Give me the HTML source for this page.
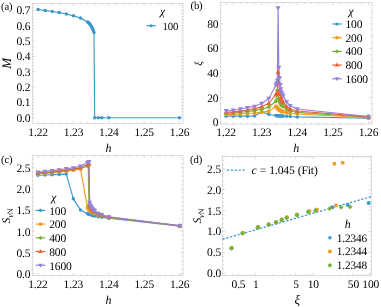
<!DOCTYPE html>
<html><head><meta charset="utf-8"><title>Figure</title>
<style>
html,body{margin:0;padding:0;background:#fff;}
body{width:381px;height:307px;overflow:hidden;}
svg{display:block;font-family:"Liberation Serif",serif;fill:#000;will-change:transform;text-rendering:geometricPrecision;}
text{letter-spacing:-0.15px;}
</style></head><body>
<svg width="381" height="307" viewBox="0 0 381 307">
<rect width="381" height="307" fill="#fff"/>
<rect x="32.4" y="3.45" width="150.6" height="119.85" fill="none" stroke="#bdbdbd" stroke-width="0.5"/>
<path d="M38.1 123.3v-2.6M38.1 3.45v2.6M73.47 123.3v-2.6M73.47 3.45v2.6M108.84 123.3v-2.6M108.84 3.45v2.6M144.21 123.3v-2.6M144.21 3.45v2.6M179.58 123.3v-2.6M179.58 3.45v2.6M45.17 123.3v-1.5M45.17 3.45v1.5M52.25 123.3v-1.5M52.25 3.45v1.5M59.32 123.3v-1.5M59.32 3.45v1.5M66.4 123.3v-1.5M66.4 3.45v1.5M80.54 123.3v-1.5M80.54 3.45v1.5M87.62 123.3v-1.5M87.62 3.45v1.5M94.69 123.3v-1.5M94.69 3.45v1.5M101.77 123.3v-1.5M101.77 3.45v1.5M115.91 123.3v-1.5M115.91 3.45v1.5M122.99 123.3v-1.5M122.99 3.45v1.5M130.06 123.3v-1.5M130.06 3.45v1.5M137.14 123.3v-1.5M137.14 3.45v1.5M151.28 123.3v-1.5M151.28 3.45v1.5M158.36 123.3v-1.5M158.36 3.45v1.5M165.43 123.3v-1.5M165.43 3.45v1.5M172.51 123.3v-1.5M172.51 3.45v1.5M32.4 117.7h2.6M183 117.7h-2.6M32.4 102.38h2.6M183 102.38h-2.6M32.4 87.06h2.6M183 87.06h-2.6M32.4 71.74h2.6M183 71.74h-2.6M32.4 56.42h2.6M183 56.42h-2.6M32.4 41.1h2.6M183 41.1h-2.6M32.4 25.78h2.6M183 25.78h-2.6M32.4 10.46h2.6M183 10.46h-2.6M32.4 114.64h1.5M183 114.64h-1.5M32.4 111.57h1.5M183 111.57h-1.5M32.4 108.51h1.5M183 108.51h-1.5M32.4 105.44h1.5M183 105.44h-1.5M32.4 99.32h1.5M183 99.32h-1.5M32.4 96.25h1.5M183 96.25h-1.5M32.4 93.19h1.5M183 93.19h-1.5M32.4 90.12h1.5M183 90.12h-1.5M32.4 84h1.5M183 84h-1.5M32.4 80.93h1.5M183 80.93h-1.5M32.4 77.87h1.5M183 77.87h-1.5M32.4 74.8h1.5M183 74.8h-1.5M32.4 68.68h1.5M183 68.68h-1.5M32.4 65.61h1.5M183 65.61h-1.5M32.4 62.55h1.5M183 62.55h-1.5M32.4 59.48h1.5M183 59.48h-1.5M32.4 53.36h1.5M183 53.36h-1.5M32.4 50.29h1.5M183 50.29h-1.5M32.4 47.23h1.5M183 47.23h-1.5M32.4 44.16h1.5M183 44.16h-1.5M32.4 38.04h1.5M183 38.04h-1.5M32.4 34.97h1.5M183 34.97h-1.5M32.4 31.91h1.5M183 31.91h-1.5M32.4 28.84h1.5M183 28.84h-1.5M32.4 22.72h1.5M183 22.72h-1.5M32.4 19.65h1.5M183 19.65h-1.5M32.4 16.59h1.5M183 16.59h-1.5M32.4 13.52h1.5M183 13.52h-1.5M32.4 7.4h1.5M183 7.4h-1.5M32.4 4.33h1.5M183 4.33h-1.5" stroke="#b4b4b4" stroke-width="0.5" fill="none"/>
<text x="38.1" y="135.7" font-size="11.5" text-anchor="middle">1.22</text>
<text x="73.47" y="135.7" font-size="11.5" text-anchor="middle">1.23</text>
<text x="108.84" y="135.7" font-size="11.5" text-anchor="middle">1.24</text>
<text x="144.21" y="135.7" font-size="11.5" text-anchor="middle">1.25</text>
<text x="179.58" y="135.7" font-size="11.5" text-anchor="middle">1.26</text>
<text x="30.4" y="121.7" font-size="11.5" text-anchor="end">0.0</text>
<text x="30.4" y="106.38" font-size="11.5" text-anchor="end">0.1</text>
<text x="30.4" y="91.06" font-size="11.5" text-anchor="end">0.2</text>
<text x="30.4" y="75.74" font-size="11.5" text-anchor="end">0.3</text>
<text x="30.4" y="60.42" font-size="11.5" text-anchor="end">0.4</text>
<text x="30.4" y="45.1" font-size="11.5" text-anchor="end">0.5</text>
<text x="30.4" y="29.78" font-size="11.5" text-anchor="end">0.6</text>
<text x="30.4" y="14.46" font-size="11.5" text-anchor="end">0.7</text>
<text x="1.1" y="9.8" font-size="10.7" text-anchor="start">(a)</text>
<text x="108.4" y="152" font-size="12" text-anchor="middle" font-style="italic">h</text>
<text transform="translate(10.9 63.4) rotate(-90)" font-size="13" text-anchor="middle"><tspan font-style="italic">M</tspan></text>
<path d="M38.1 9.54L45.17 10.61L52.25 11.53L59.32 12.6L66.4 13.98L73.47 15.82L80.54 18.12L87.62 21.95L88.33 22.56L89.03 23.33L89.74 24.09L90.45 25.01L91.16 26.09L91.86 27.31L92.57 28.69L93.28 30.38L93.98 32.52L94.69 117.7L98.23 117.7L101.77 117.7L108.84 117.7L179.58 117.7" fill="none" stroke="#3d99cc" stroke-width="1.15" stroke-linejoin="round"/>
<circle cx="38.1" cy="9.54" r="1.75" fill="#3d99cc"/>
<circle cx="45.17" cy="10.61" r="1.75" fill="#3d99cc"/>
<circle cx="52.25" cy="11.53" r="1.75" fill="#3d99cc"/>
<circle cx="59.32" cy="12.6" r="1.75" fill="#3d99cc"/>
<circle cx="66.4" cy="13.98" r="1.75" fill="#3d99cc"/>
<circle cx="73.47" cy="15.82" r="1.75" fill="#3d99cc"/>
<circle cx="80.54" cy="18.12" r="1.75" fill="#3d99cc"/>
<circle cx="87.62" cy="21.95" r="1.75" fill="#3d99cc"/>
<circle cx="88.33" cy="22.56" r="1.75" fill="#3d99cc"/>
<circle cx="89.03" cy="23.33" r="1.75" fill="#3d99cc"/>
<circle cx="89.74" cy="24.09" r="1.75" fill="#3d99cc"/>
<circle cx="90.45" cy="25.01" r="1.75" fill="#3d99cc"/>
<circle cx="91.16" cy="26.09" r="1.75" fill="#3d99cc"/>
<circle cx="91.86" cy="27.31" r="1.75" fill="#3d99cc"/>
<circle cx="92.57" cy="28.69" r="1.75" fill="#3d99cc"/>
<circle cx="93.28" cy="30.38" r="1.75" fill="#3d99cc"/>
<circle cx="93.98" cy="32.52" r="1.75" fill="#3d99cc"/>
<circle cx="94.69" cy="117.7" r="1.75" fill="#3d99cc"/>
<circle cx="98.23" cy="117.7" r="1.75" fill="#3d99cc"/>
<circle cx="101.77" cy="117.7" r="1.75" fill="#3d99cc"/>
<circle cx="108.84" cy="117.7" r="1.75" fill="#3d99cc"/>
<circle cx="179.58" cy="117.7" r="1.75" fill="#3d99cc"/>
<text x="162.5" y="15.2" font-size="11.5" text-anchor="middle" font-style="italic">&#967;</text>
<path d="M146.3 25.7h9.6" stroke="#3d99cc" stroke-width="1.2"/>
<circle cx="151.1" cy="25.7" r="1.57" fill="#3d99cc"/>
<text x="162.6" y="29.6" font-size="10.8" text-anchor="start">100</text>
<rect x="220.2" y="2.5" width="151.8" height="121.6" fill="none" stroke="#bdbdbd" stroke-width="0.5"/>
<path d="M226.1 124.1v-2.6M226.1 2.5v2.6M261.7 124.1v-2.6M261.7 2.5v2.6M297.3 124.1v-2.6M297.3 2.5v2.6M332.9 124.1v-2.6M332.9 2.5v2.6M368.5 124.1v-2.6M368.5 2.5v2.6M233.22 124.1v-1.5M233.22 2.5v1.5M240.34 124.1v-1.5M240.34 2.5v1.5M247.46 124.1v-1.5M247.46 2.5v1.5M254.58 124.1v-1.5M254.58 2.5v1.5M268.82 124.1v-1.5M268.82 2.5v1.5M275.94 124.1v-1.5M275.94 2.5v1.5M283.06 124.1v-1.5M283.06 2.5v1.5M290.18 124.1v-1.5M290.18 2.5v1.5M304.42 124.1v-1.5M304.42 2.5v1.5M311.54 124.1v-1.5M311.54 2.5v1.5M318.66 124.1v-1.5M318.66 2.5v1.5M325.78 124.1v-1.5M325.78 2.5v1.5M340.02 124.1v-1.5M340.02 2.5v1.5M347.14 124.1v-1.5M347.14 2.5v1.5M354.26 124.1v-1.5M354.26 2.5v1.5M361.38 124.1v-1.5M361.38 2.5v1.5M220.2 122.2h2.6M372 122.2h-2.6M220.2 97.6h2.6M372 97.6h-2.6M220.2 73h2.6M372 73h-2.6M220.2 48.4h2.6M372 48.4h-2.6M220.2 23.8h2.6M372 23.8h-2.6M220.2 116.05h1.5M372 116.05h-1.5M220.2 109.9h1.5M372 109.9h-1.5M220.2 103.75h1.5M372 103.75h-1.5M220.2 91.45h1.5M372 91.45h-1.5M220.2 85.3h1.5M372 85.3h-1.5M220.2 79.15h1.5M372 79.15h-1.5M220.2 66.85h1.5M372 66.85h-1.5M220.2 60.7h1.5M372 60.7h-1.5M220.2 54.55h1.5M372 54.55h-1.5M220.2 42.25h1.5M372 42.25h-1.5M220.2 36.1h1.5M372 36.1h-1.5M220.2 29.95h1.5M372 29.95h-1.5M220.2 17.65h1.5M372 17.65h-1.5M220.2 11.5h1.5M372 11.5h-1.5M220.2 5.35h1.5M372 5.35h-1.5" stroke="#b4b4b4" stroke-width="0.5" fill="none"/>
<text x="226.1" y="135.7" font-size="11.5" text-anchor="middle">1.22</text>
<text x="261.7" y="135.7" font-size="11.5" text-anchor="middle">1.23</text>
<text x="297.3" y="135.7" font-size="11.5" text-anchor="middle">1.24</text>
<text x="332.9" y="135.7" font-size="11.5" text-anchor="middle">1.25</text>
<text x="368.5" y="135.7" font-size="11.5" text-anchor="middle">1.26</text>
<text x="218.4" y="126.1" font-size="11.5" text-anchor="end">0</text>
<text x="218.4" y="101.5" font-size="11.5" text-anchor="end">20</text>
<text x="218.4" y="76.9" font-size="11.5" text-anchor="end">40</text>
<text x="218.4" y="52.3" font-size="11.5" text-anchor="end">60</text>
<text x="218.4" y="27.7" font-size="11.5" text-anchor="end">80</text>
<text x="190.5" y="9.3" font-size="10.7" text-anchor="start">(b)</text>
<text x="296.3" y="152" font-size="12" text-anchor="middle" font-style="italic">h</text>
<text transform="translate(202.4 63.5) rotate(-90)" font-size="10.5" text-anchor="middle"><tspan font-style="italic">&#958;</tspan></text>
<path d="M226.1 116.17L233.22 116.17L240.34 116.17L247.46 116.17L254.58 116.05L261.7 111.87L268.82 114.45L275.94 115.56L276.65 115.68L277.36 115.68L278.08 115.8L278.79 115.8L279.5 115.8L280.21 115.93L280.92 115.93L281.64 115.93L282.35 116.05L283.06 116.05L286.62 116.3L290.18 116.54L297.3 116.91L368.5 118.26" fill="none" stroke="#3d99cc" stroke-width="1.15" stroke-linejoin="round"/>
<path d="M226.1 114.57L233.22 114.33L240.34 113.96L247.46 113.47L254.58 112.98L261.7 112.11L268.82 111.38L275.94 106.33L276.65 107.07L277.36 107.93L278.08 108.67L278.79 109.41L279.5 110.02L280.21 110.52L280.92 110.88L281.64 111.25L282.35 111.5L283.06 111.75L286.62 112.61L290.18 113.22L297.3 113.96L368.5 117.77" fill="none" stroke="#f19b1e" stroke-width="1.15" stroke-linejoin="round"/>
<path d="M226.1 113.47L233.22 112.98L240.34 112.36L247.46 111.5L254.58 110.64L261.7 109.16L268.82 107.07L275.94 101.29L276.65 95.14L277.36 90.22L278.08 93.91L278.79 98.83L279.5 101.29L280.21 103.01L280.92 104.24L281.64 105.23L282.35 105.84L283.06 106.33L286.62 109.16L290.18 111.01L297.3 112.36L368.5 117.28" fill="none" stroke="#74b336" stroke-width="1.15" stroke-linejoin="round"/>
<path d="M226.1 112.36L233.22 111.87L240.34 111.13L247.46 110.02L254.58 108.67L261.7 106.83L268.82 103.26L275.94 94.53L276.65 93.3L277.36 92.68L278.08 72.39L278.79 82.84L279.5 90.22L280.21 94.53L280.92 97.6L281.64 99.69L282.35 101.29L283.06 102.52L286.62 106.46L290.18 109.04L297.3 111.01L368.5 116.91" fill="none" stroke="#eb6235" stroke-width="1.15" stroke-linejoin="round"/>
<path d="M226.1 110.76L233.22 110.27L240.34 109.04L247.46 107.56L254.58 106.33L261.7 103.5L268.82 98.46L275.94 85.05L276.65 82.84L277.36 80.38L278.08 7.81L278.79 67.47L279.5 77.92L280.21 84.69L280.92 88.99L281.64 92.06L282.35 94.16L283.06 95.88L286.62 101.91L290.18 105.72L297.3 109.04L368.5 116.54" fill="none" stroke="#9382d9" stroke-width="1.15" stroke-linejoin="round"/>
<circle cx="226.1" cy="116.17" r="1.75" fill="#3d99cc"/>
<circle cx="233.22" cy="116.17" r="1.75" fill="#3d99cc"/>
<circle cx="240.34" cy="116.17" r="1.75" fill="#3d99cc"/>
<circle cx="247.46" cy="116.17" r="1.75" fill="#3d99cc"/>
<circle cx="254.58" cy="116.05" r="1.75" fill="#3d99cc"/>
<circle cx="261.7" cy="111.87" r="1.75" fill="#3d99cc"/>
<circle cx="268.82" cy="114.45" r="1.75" fill="#3d99cc"/>
<circle cx="275.94" cy="115.56" r="1.75" fill="#3d99cc"/>
<circle cx="276.65" cy="115.68" r="1.75" fill="#3d99cc"/>
<circle cx="277.36" cy="115.68" r="1.75" fill="#3d99cc"/>
<circle cx="278.08" cy="115.8" r="1.75" fill="#3d99cc"/>
<circle cx="278.79" cy="115.8" r="1.75" fill="#3d99cc"/>
<circle cx="279.5" cy="115.8" r="1.75" fill="#3d99cc"/>
<circle cx="280.21" cy="115.93" r="1.75" fill="#3d99cc"/>
<circle cx="280.92" cy="115.93" r="1.75" fill="#3d99cc"/>
<circle cx="281.64" cy="115.93" r="1.75" fill="#3d99cc"/>
<circle cx="282.35" cy="116.05" r="1.75" fill="#3d99cc"/>
<circle cx="283.06" cy="116.05" r="1.75" fill="#3d99cc"/>
<circle cx="286.62" cy="116.3" r="1.75" fill="#3d99cc"/>
<circle cx="290.18" cy="116.54" r="1.75" fill="#3d99cc"/>
<circle cx="297.3" cy="116.91" r="1.75" fill="#3d99cc"/>
<circle cx="368.5" cy="118.26" r="1.75" fill="#3d99cc"/>
<rect x="224.4" y="112.87" width="3.4" height="3.4" fill="#f19b1e"/>
<rect x="231.52" y="112.63" width="3.4" height="3.4" fill="#f19b1e"/>
<rect x="238.64" y="112.26" width="3.4" height="3.4" fill="#f19b1e"/>
<rect x="245.76" y="111.77" width="3.4" height="3.4" fill="#f19b1e"/>
<rect x="252.88" y="111.28" width="3.4" height="3.4" fill="#f19b1e"/>
<rect x="260" y="110.41" width="3.4" height="3.4" fill="#f19b1e"/>
<rect x="267.12" y="109.68" width="3.4" height="3.4" fill="#f19b1e"/>
<rect x="274.24" y="104.63" width="3.4" height="3.4" fill="#f19b1e"/>
<rect x="274.95" y="105.37" width="3.4" height="3.4" fill="#f19b1e"/>
<rect x="275.66" y="106.23" width="3.4" height="3.4" fill="#f19b1e"/>
<rect x="276.38" y="106.97" width="3.4" height="3.4" fill="#f19b1e"/>
<rect x="277.09" y="107.71" width="3.4" height="3.4" fill="#f19b1e"/>
<rect x="277.8" y="108.32" width="3.4" height="3.4" fill="#f19b1e"/>
<rect x="278.51" y="108.81" width="3.4" height="3.4" fill="#f19b1e"/>
<rect x="279.22" y="109.18" width="3.4" height="3.4" fill="#f19b1e"/>
<rect x="279.94" y="109.55" width="3.4" height="3.4" fill="#f19b1e"/>
<rect x="280.65" y="109.8" width="3.4" height="3.4" fill="#f19b1e"/>
<rect x="281.36" y="110.05" width="3.4" height="3.4" fill="#f19b1e"/>
<rect x="284.92" y="110.91" width="3.4" height="3.4" fill="#f19b1e"/>
<rect x="288.48" y="111.52" width="3.4" height="3.4" fill="#f19b1e"/>
<rect x="295.6" y="112.26" width="3.4" height="3.4" fill="#f19b1e"/>
<rect x="366.8" y="116.07" width="3.4" height="3.4" fill="#f19b1e"/>
<path d="M226.1 111.07L228.5 113.47L226.1 115.87L223.7 113.47Z" fill="#74b336"/>
<path d="M233.22 110.58L235.62 112.98L233.22 115.38L230.82 112.98Z" fill="#74b336"/>
<path d="M240.34 109.96L242.74 112.36L240.34 114.76L237.94 112.36Z" fill="#74b336"/>
<path d="M247.46 109.1L249.86 111.5L247.46 113.9L245.06 111.5Z" fill="#74b336"/>
<path d="M254.58 108.24L256.98 110.64L254.58 113.04L252.18 110.64Z" fill="#74b336"/>
<path d="M261.7 106.76L264.1 109.16L261.7 111.56L259.3 109.16Z" fill="#74b336"/>
<path d="M268.82 104.67L271.22 107.07L268.82 109.47L266.42 107.07Z" fill="#74b336"/>
<path d="M275.94 98.89L278.34 101.29L275.94 103.69L273.54 101.29Z" fill="#74b336"/>
<path d="M276.65 92.74L279.05 95.14L276.65 97.54L274.25 95.14Z" fill="#74b336"/>
<path d="M277.36 87.82L279.76 90.22L277.36 92.62L274.96 90.22Z" fill="#74b336"/>
<path d="M278.08 91.51L280.48 93.91L278.08 96.31L275.68 93.91Z" fill="#74b336"/>
<path d="M278.79 96.43L281.19 98.83L278.79 101.23L276.39 98.83Z" fill="#74b336"/>
<path d="M279.5 98.89L281.9 101.29L279.5 103.69L277.1 101.29Z" fill="#74b336"/>
<path d="M280.21 100.61L282.61 103.01L280.21 105.41L277.81 103.01Z" fill="#74b336"/>
<path d="M280.92 101.84L283.32 104.24L280.92 106.64L278.52 104.24Z" fill="#74b336"/>
<path d="M281.64 102.83L284.04 105.23L281.64 107.63L279.24 105.23Z" fill="#74b336"/>
<path d="M282.35 103.44L284.75 105.84L282.35 108.24L279.95 105.84Z" fill="#74b336"/>
<path d="M283.06 103.93L285.46 106.33L283.06 108.73L280.66 106.33Z" fill="#74b336"/>
<path d="M286.62 106.76L289.02 109.16L286.62 111.56L284.22 109.16Z" fill="#74b336"/>
<path d="M290.18 108.61L292.58 111.01L290.18 113.41L287.78 111.01Z" fill="#74b336"/>
<path d="M297.3 109.96L299.7 112.36L297.3 114.76L294.9 112.36Z" fill="#74b336"/>
<path d="M368.5 114.88L370.9 117.28L368.5 119.68L366.1 117.28Z" fill="#74b336"/>
<path d="M226.1 109.56L228.62 114.04L223.58 114.04Z" fill="#eb6235"/>
<path d="M233.22 109.07L235.74 113.55L230.7 113.55Z" fill="#eb6235"/>
<path d="M240.34 108.33L242.86 112.81L237.82 112.81Z" fill="#eb6235"/>
<path d="M247.46 107.22L249.98 111.7L244.94 111.7Z" fill="#eb6235"/>
<path d="M254.58 105.87L257.1 110.35L252.06 110.35Z" fill="#eb6235"/>
<path d="M261.7 104.03L264.22 108.51L259.18 108.51Z" fill="#eb6235"/>
<path d="M268.82 100.46L271.34 104.94L266.3 104.94Z" fill="#eb6235"/>
<path d="M275.94 91.73L278.46 96.21L273.42 96.21Z" fill="#eb6235"/>
<path d="M276.65 90.5L279.17 94.98L274.13 94.98Z" fill="#eb6235"/>
<path d="M277.36 89.88L279.88 94.36L274.84 94.36Z" fill="#eb6235"/>
<path d="M278.08 69.59L280.6 74.07L275.56 74.07Z" fill="#eb6235"/>
<path d="M278.79 80.04L281.31 84.52L276.27 84.52Z" fill="#eb6235"/>
<path d="M279.5 87.42L282.02 91.9L276.98 91.9Z" fill="#eb6235"/>
<path d="M280.21 91.73L282.73 96.21L277.69 96.21Z" fill="#eb6235"/>
<path d="M280.92 94.8L283.44 99.28L278.4 99.28Z" fill="#eb6235"/>
<path d="M281.64 96.89L284.16 101.37L279.12 101.37Z" fill="#eb6235"/>
<path d="M282.35 98.49L284.87 102.97L279.83 102.97Z" fill="#eb6235"/>
<path d="M283.06 99.72L285.58 104.2L280.54 104.2Z" fill="#eb6235"/>
<path d="M286.62 103.66L289.14 108.14L284.1 108.14Z" fill="#eb6235"/>
<path d="M290.18 106.24L292.7 110.72L287.66 110.72Z" fill="#eb6235"/>
<path d="M297.3 108.21L299.82 112.69L294.78 112.69Z" fill="#eb6235"/>
<path d="M368.5 114.11L371.02 118.59L365.98 118.59Z" fill="#eb6235"/>
<path d="M226.1 113.56L228.62 109.08L223.58 109.08Z" fill="#9382d9"/>
<path d="M233.22 113.07L235.74 108.59L230.7 108.59Z" fill="#9382d9"/>
<path d="M240.34 111.84L242.86 107.36L237.82 107.36Z" fill="#9382d9"/>
<path d="M247.46 110.36L249.98 105.88L244.94 105.88Z" fill="#9382d9"/>
<path d="M254.58 109.13L257.1 104.65L252.06 104.65Z" fill="#9382d9"/>
<path d="M261.7 106.3L264.22 101.82L259.18 101.82Z" fill="#9382d9"/>
<path d="M268.82 101.26L271.34 96.78L266.3 96.78Z" fill="#9382d9"/>
<path d="M275.94 87.85L278.46 83.37L273.42 83.37Z" fill="#9382d9"/>
<path d="M276.65 85.64L279.17 81.16L274.13 81.16Z" fill="#9382d9"/>
<path d="M277.36 83.18L279.88 78.7L274.84 78.7Z" fill="#9382d9"/>
<path d="M278.08 10.61L280.6 6.13L275.56 6.13Z" fill="#9382d9"/>
<path d="M278.79 70.27L281.31 65.78L276.27 65.78Z" fill="#9382d9"/>
<path d="M279.5 80.72L282.02 76.24L276.98 76.24Z" fill="#9382d9"/>
<path d="M280.21 87.48L282.73 83L277.69 83Z" fill="#9382d9"/>
<path d="M280.92 91.79L283.44 87.31L278.4 87.31Z" fill="#9382d9"/>
<path d="M281.64 94.86L284.16 90.38L279.12 90.38Z" fill="#9382d9"/>
<path d="M282.35 96.96L284.87 92.48L279.83 92.48Z" fill="#9382d9"/>
<path d="M283.06 98.68L285.58 94.2L280.54 94.2Z" fill="#9382d9"/>
<path d="M286.62 104.7L289.14 100.22L284.1 100.22Z" fill="#9382d9"/>
<path d="M290.18 108.52L292.7 104.04L287.66 104.04Z" fill="#9382d9"/>
<path d="M297.3 111.84L299.82 107.36L294.78 107.36Z" fill="#9382d9"/>
<path d="M368.5 119.34L371.02 114.86L365.98 114.86Z" fill="#9382d9"/>
<text x="350.9" y="15" font-size="11.5" text-anchor="middle" font-style="italic">&#967;</text>
<path d="M332.2 24h9.6" stroke="#3d99cc" stroke-width="1.2"/>
<circle cx="337" cy="24" r="1.57" fill="#3d99cc"/>
<text x="345.5" y="27.9" font-size="11.5" text-anchor="start">100</text>
<path d="M332.2 37.7h9.6" stroke="#f19b1e" stroke-width="1.2"/>
<rect x="335.47" y="36.17" width="3.06" height="3.06" fill="#f19b1e"/>
<text x="345.5" y="41.6" font-size="11.5" text-anchor="start">200</text>
<path d="M332.2 51.4h9.6" stroke="#74b336" stroke-width="1.2"/>
<path d="M337 49.24L339.16 51.4L337 53.56L334.84 51.4Z" fill="#74b336"/>
<text x="345.5" y="55.3" font-size="11.5" text-anchor="start">400</text>
<path d="M332.2 65.1h9.6" stroke="#eb6235" stroke-width="1.2"/>
<path d="M337 62.58L339.27 66.61L334.73 66.61Z" fill="#eb6235"/>
<text x="345.5" y="69" font-size="11.5" text-anchor="start">800</text>
<path d="M332.2 78.8h9.6" stroke="#9382d9" stroke-width="1.2"/>
<path d="M337 81.32L339.27 77.29L334.73 77.29Z" fill="#9382d9"/>
<text x="345.5" y="82.7" font-size="11.5" text-anchor="start">1600</text>
<rect x="32.2" y="155.5" width="150.8" height="120.1" fill="none" stroke="#bdbdbd" stroke-width="0.5"/>
<path d="M37.9 275.6v-2.6M37.9 155.5v2.6M73.35 275.6v-2.6M73.35 155.5v2.6M108.8 275.6v-2.6M108.8 155.5v2.6M144.25 275.6v-2.6M144.25 155.5v2.6M179.7 275.6v-2.6M179.7 155.5v2.6M44.99 275.6v-1.5M44.99 155.5v1.5M52.08 275.6v-1.5M52.08 155.5v1.5M59.17 275.6v-1.5M59.17 155.5v1.5M66.26 275.6v-1.5M66.26 155.5v1.5M80.44 275.6v-1.5M80.44 155.5v1.5M87.53 275.6v-1.5M87.53 155.5v1.5M94.62 275.6v-1.5M94.62 155.5v1.5M101.71 275.6v-1.5M101.71 155.5v1.5M115.89 275.6v-1.5M115.89 155.5v1.5M122.98 275.6v-1.5M122.98 155.5v1.5M130.07 275.6v-1.5M130.07 155.5v1.5M137.16 275.6v-1.5M137.16 155.5v1.5M151.34 275.6v-1.5M151.34 155.5v1.5M158.43 275.6v-1.5M158.43 155.5v1.5M165.52 275.6v-1.5M165.52 155.5v1.5M172.61 275.6v-1.5M172.61 155.5v1.5M32.2 273.7h2.6M183 273.7h-2.6M32.2 252.5h2.6M183 252.5h-2.6M32.2 231.3h2.6M183 231.3h-2.6M32.2 210.1h2.6M183 210.1h-2.6M32.2 188.9h2.6M183 188.9h-2.6M32.2 167.7h2.6M183 167.7h-2.6M32.2 269.46h1.5M183 269.46h-1.5M32.2 265.22h1.5M183 265.22h-1.5M32.2 260.98h1.5M183 260.98h-1.5M32.2 256.74h1.5M183 256.74h-1.5M32.2 248.26h1.5M183 248.26h-1.5M32.2 244.02h1.5M183 244.02h-1.5M32.2 239.78h1.5M183 239.78h-1.5M32.2 235.54h1.5M183 235.54h-1.5M32.2 227.06h1.5M183 227.06h-1.5M32.2 222.82h1.5M183 222.82h-1.5M32.2 218.58h1.5M183 218.58h-1.5M32.2 214.34h1.5M183 214.34h-1.5M32.2 205.86h1.5M183 205.86h-1.5M32.2 201.62h1.5M183 201.62h-1.5M32.2 197.38h1.5M183 197.38h-1.5M32.2 193.14h1.5M183 193.14h-1.5M32.2 184.66h1.5M183 184.66h-1.5M32.2 180.42h1.5M183 180.42h-1.5M32.2 176.18h1.5M183 176.18h-1.5M32.2 171.94h1.5M183 171.94h-1.5M32.2 163.46h1.5M183 163.46h-1.5M32.2 159.22h1.5M183 159.22h-1.5" stroke="#b4b4b4" stroke-width="0.5" fill="none"/>
<text x="37.9" y="288" font-size="11.5" text-anchor="middle">1.22</text>
<text x="73.35" y="288" font-size="11.5" text-anchor="middle">1.23</text>
<text x="108.8" y="288" font-size="11.5" text-anchor="middle">1.24</text>
<text x="144.25" y="288" font-size="11.5" text-anchor="middle">1.25</text>
<text x="179.7" y="288" font-size="11.5" text-anchor="middle">1.26</text>
<text x="30.4" y="278" font-size="11.5" text-anchor="end">0.0</text>
<text x="30.4" y="256.8" font-size="11.5" text-anchor="end">0.5</text>
<text x="30.4" y="235.6" font-size="11.5" text-anchor="end">1.0</text>
<text x="30.4" y="214.4" font-size="11.5" text-anchor="end">1.5</text>
<text x="30.4" y="193.2" font-size="11.5" text-anchor="end">2.0</text>
<text x="30.4" y="172" font-size="11.5" text-anchor="end">2.5</text>
<text x="1.1" y="162.6" font-size="10.7" text-anchor="start">(c)</text>
<text x="108.4" y="304" font-size="12" text-anchor="middle" font-style="italic">h</text>
<text transform="translate(10.2 216) rotate(-90)" font-size="11.5" text-anchor="middle"><tspan font-style="italic">S</tspan><tspan font-size="8.2" dy="3" font-style="italic">v</tspan><tspan font-size="8.2">N</tspan></text>
<path d="M37.9 175.25L44.99 174.99L52.08 174.7L59.17 174.4L66.26 174.06L73.35 198.86L80.44 209.89L87.53 213.62L88.24 213.92L88.95 214.13L89.66 214.34L90.37 214.55L91.08 214.76L91.78 214.98L92.49 215.19L93.2 215.61L93.91 215.82L94.62 216.04L98.17 216.67L101.71 217.31L108.8 218.16L179.7 226.21" fill="none" stroke="#3d99cc" stroke-width="1.15" stroke-linejoin="round"/>
<path d="M37.9 173.85L44.99 173.21L52.08 172.58L59.17 171.94L66.26 171.09L73.35 170.03L80.44 168.97L87.53 207.73L88.24 208.62L88.95 209.46L89.66 210.1L90.37 210.74L91.08 211.37L91.78 211.8L92.49 212.22L93.2 212.64L93.91 213.07L94.62 213.49L98.17 214.98L101.71 216.04L108.8 217.52L179.7 226" fill="none" stroke="#f19b1e" stroke-width="1.15" stroke-linejoin="round"/>
<path d="M37.9 173.42L44.99 172.79L52.08 172.15L59.17 171.3L66.26 170.46L73.35 169.4L80.44 168.12L87.53 166.22L88.24 165.79L88.95 205.01L89.66 206.71L90.37 207.98L91.08 209.04L91.78 209.89L92.49 210.52L93.2 211.16L93.91 211.8L94.62 212.22L98.17 214.34L101.71 215.61L108.8 217.31L179.7 225.79" fill="none" stroke="#74b336" stroke-width="1.15" stroke-linejoin="round"/>
<path d="M37.9 173L44.99 172.36L52.08 171.73L59.17 170.88L66.26 170.03L73.35 168.97L80.44 167.7L87.53 164.52L88.24 163.88L88.95 163.46L89.66 205.01L90.37 206.5L91.08 207.77L91.78 208.83L92.49 209.68L93.2 210.31L93.91 210.95L94.62 211.58L98.17 213.92L101.71 215.19L108.8 217.1L179.7 225.79" fill="none" stroke="#eb6235" stroke-width="1.15" stroke-linejoin="round"/>
<path d="M37.9 172.15L44.99 171.52L52.08 170.67L59.17 169.82L66.26 168.76L73.35 167.91L80.44 166.22L87.53 162.61L88.24 162.19L88.95 161.76L89.66 202.47L90.37 205.01L91.08 206.71L91.78 207.98L92.49 209.04L93.2 209.68L93.91 210.31L94.62 210.95L98.17 213.49L101.71 214.76L108.8 216.88L179.7 225.58" fill="none" stroke="#9382d9" stroke-width="1.15" stroke-linejoin="round"/>
<circle cx="37.9" cy="175.25" r="1.75" fill="#3d99cc"/>
<circle cx="44.99" cy="174.99" r="1.75" fill="#3d99cc"/>
<circle cx="52.08" cy="174.7" r="1.75" fill="#3d99cc"/>
<circle cx="59.17" cy="174.4" r="1.75" fill="#3d99cc"/>
<circle cx="66.26" cy="174.06" r="1.75" fill="#3d99cc"/>
<circle cx="73.35" cy="198.86" r="1.75" fill="#3d99cc"/>
<circle cx="80.44" cy="209.89" r="1.75" fill="#3d99cc"/>
<circle cx="87.53" cy="213.62" r="1.75" fill="#3d99cc"/>
<circle cx="88.24" cy="213.92" r="1.75" fill="#3d99cc"/>
<circle cx="88.95" cy="214.13" r="1.75" fill="#3d99cc"/>
<circle cx="89.66" cy="214.34" r="1.75" fill="#3d99cc"/>
<circle cx="90.37" cy="214.55" r="1.75" fill="#3d99cc"/>
<circle cx="91.08" cy="214.76" r="1.75" fill="#3d99cc"/>
<circle cx="91.78" cy="214.98" r="1.75" fill="#3d99cc"/>
<circle cx="92.49" cy="215.19" r="1.75" fill="#3d99cc"/>
<circle cx="93.2" cy="215.61" r="1.75" fill="#3d99cc"/>
<circle cx="93.91" cy="215.82" r="1.75" fill="#3d99cc"/>
<circle cx="94.62" cy="216.04" r="1.75" fill="#3d99cc"/>
<circle cx="98.17" cy="216.67" r="1.75" fill="#3d99cc"/>
<circle cx="101.71" cy="217.31" r="1.75" fill="#3d99cc"/>
<circle cx="108.8" cy="218.16" r="1.75" fill="#3d99cc"/>
<circle cx="179.7" cy="226.21" r="1.75" fill="#3d99cc"/>
<rect x="36.2" y="172.15" width="3.4" height="3.4" fill="#f19b1e"/>
<rect x="43.29" y="171.51" width="3.4" height="3.4" fill="#f19b1e"/>
<rect x="50.38" y="170.88" width="3.4" height="3.4" fill="#f19b1e"/>
<rect x="57.47" y="170.24" width="3.4" height="3.4" fill="#f19b1e"/>
<rect x="64.56" y="169.39" width="3.4" height="3.4" fill="#f19b1e"/>
<rect x="71.65" y="168.33" width="3.4" height="3.4" fill="#f19b1e"/>
<rect x="78.74" y="167.27" width="3.4" height="3.4" fill="#f19b1e"/>
<rect x="85.83" y="206.03" width="3.4" height="3.4" fill="#f19b1e"/>
<rect x="86.54" y="206.92" width="3.4" height="3.4" fill="#f19b1e"/>
<rect x="87.25" y="207.76" width="3.4" height="3.4" fill="#f19b1e"/>
<rect x="87.96" y="208.4" width="3.4" height="3.4" fill="#f19b1e"/>
<rect x="88.67" y="209.04" width="3.4" height="3.4" fill="#f19b1e"/>
<rect x="89.38" y="209.67" width="3.4" height="3.4" fill="#f19b1e"/>
<rect x="90.08" y="210.1" width="3.4" height="3.4" fill="#f19b1e"/>
<rect x="90.79" y="210.52" width="3.4" height="3.4" fill="#f19b1e"/>
<rect x="91.5" y="210.94" width="3.4" height="3.4" fill="#f19b1e"/>
<rect x="92.21" y="211.37" width="3.4" height="3.4" fill="#f19b1e"/>
<rect x="92.92" y="211.79" width="3.4" height="3.4" fill="#f19b1e"/>
<rect x="96.47" y="213.28" width="3.4" height="3.4" fill="#f19b1e"/>
<rect x="100.01" y="214.34" width="3.4" height="3.4" fill="#f19b1e"/>
<rect x="107.1" y="215.82" width="3.4" height="3.4" fill="#f19b1e"/>
<rect x="178" y="224.3" width="3.4" height="3.4" fill="#f19b1e"/>
<path d="M37.9 171.02L40.3 173.42L37.9 175.82L35.5 173.42Z" fill="#74b336"/>
<path d="M44.99 170.39L47.39 172.79L44.99 175.19L42.59 172.79Z" fill="#74b336"/>
<path d="M52.08 169.75L54.48 172.15L52.08 174.55L49.68 172.15Z" fill="#74b336"/>
<path d="M59.17 168.9L61.57 171.3L59.17 173.7L56.77 171.3Z" fill="#74b336"/>
<path d="M66.26 168.06L68.66 170.46L66.26 172.86L63.86 170.46Z" fill="#74b336"/>
<path d="M73.35 167L75.75 169.4L73.35 171.8L70.95 169.4Z" fill="#74b336"/>
<path d="M80.44 165.72L82.84 168.12L80.44 170.52L78.04 168.12Z" fill="#74b336"/>
<path d="M87.53 163.82L89.93 166.22L87.53 168.62L85.13 166.22Z" fill="#74b336"/>
<path d="M88.24 163.39L90.64 165.79L88.24 168.19L85.84 165.79Z" fill="#74b336"/>
<path d="M88.95 202.61L91.35 205.01L88.95 207.41L86.55 205.01Z" fill="#74b336"/>
<path d="M89.66 204.31L92.06 206.71L89.66 209.11L87.26 206.71Z" fill="#74b336"/>
<path d="M90.37 205.58L92.77 207.98L90.37 210.38L87.97 207.98Z" fill="#74b336"/>
<path d="M91.08 206.64L93.48 209.04L91.08 211.44L88.68 209.04Z" fill="#74b336"/>
<path d="M91.78 207.49L94.18 209.89L91.78 212.29L89.38 209.89Z" fill="#74b336"/>
<path d="M92.49 208.12L94.89 210.52L92.49 212.92L90.09 210.52Z" fill="#74b336"/>
<path d="M93.2 208.76L95.6 211.16L93.2 213.56L90.8 211.16Z" fill="#74b336"/>
<path d="M93.91 209.4L96.31 211.8L93.91 214.2L91.51 211.8Z" fill="#74b336"/>
<path d="M94.62 209.82L97.02 212.22L94.62 214.62L92.22 212.22Z" fill="#74b336"/>
<path d="M98.17 211.94L100.57 214.34L98.17 216.74L95.77 214.34Z" fill="#74b336"/>
<path d="M101.71 213.21L104.11 215.61L101.71 218.01L99.31 215.61Z" fill="#74b336"/>
<path d="M108.8 214.91L111.2 217.31L108.8 219.71L106.4 217.31Z" fill="#74b336"/>
<path d="M179.7 223.39L182.1 225.79L179.7 228.19L177.3 225.79Z" fill="#74b336"/>
<path d="M37.9 170.2L40.42 174.68L35.38 174.68Z" fill="#eb6235"/>
<path d="M44.99 169.56L47.51 174.04L42.47 174.04Z" fill="#eb6235"/>
<path d="M52.08 168.93L54.6 173.41L49.56 173.41Z" fill="#eb6235"/>
<path d="M59.17 168.08L61.69 172.56L56.65 172.56Z" fill="#eb6235"/>
<path d="M66.26 167.23L68.78 171.71L63.74 171.71Z" fill="#eb6235"/>
<path d="M73.35 166.17L75.87 170.65L70.83 170.65Z" fill="#eb6235"/>
<path d="M80.44 164.9L82.96 169.38L77.92 169.38Z" fill="#eb6235"/>
<path d="M87.53 161.72L90.05 166.2L85.01 166.2Z" fill="#eb6235"/>
<path d="M88.24 161.08L90.76 165.56L85.72 165.56Z" fill="#eb6235"/>
<path d="M88.95 160.66L91.47 165.14L86.43 165.14Z" fill="#eb6235"/>
<path d="M89.66 202.21L92.18 206.69L87.14 206.69Z" fill="#eb6235"/>
<path d="M90.37 203.7L92.89 208.18L87.85 208.18Z" fill="#eb6235"/>
<path d="M91.08 204.97L93.6 209.45L88.56 209.45Z" fill="#eb6235"/>
<path d="M91.78 206.03L94.3 210.51L89.26 210.51Z" fill="#eb6235"/>
<path d="M92.49 206.88L95.01 211.36L89.97 211.36Z" fill="#eb6235"/>
<path d="M93.2 207.51L95.72 211.99L90.68 211.99Z" fill="#eb6235"/>
<path d="M93.91 208.15L96.43 212.63L91.39 212.63Z" fill="#eb6235"/>
<path d="M94.62 208.78L97.14 213.26L92.1 213.26Z" fill="#eb6235"/>
<path d="M98.17 211.12L100.69 215.6L95.65 215.6Z" fill="#eb6235"/>
<path d="M101.71 212.39L104.23 216.87L99.19 216.87Z" fill="#eb6235"/>
<path d="M108.8 214.3L111.32 218.78L106.28 218.78Z" fill="#eb6235"/>
<path d="M179.7 222.99L182.22 227.47L177.18 227.47Z" fill="#eb6235"/>
<path d="M37.9 174.95L40.42 170.47L35.38 170.47Z" fill="#9382d9"/>
<path d="M44.99 174.32L47.51 169.84L42.47 169.84Z" fill="#9382d9"/>
<path d="M52.08 173.47L54.6 168.99L49.56 168.99Z" fill="#9382d9"/>
<path d="M59.17 172.62L61.69 168.14L56.65 168.14Z" fill="#9382d9"/>
<path d="M66.26 171.56L68.78 167.08L63.74 167.08Z" fill="#9382d9"/>
<path d="M73.35 170.71L75.87 166.23L70.83 166.23Z" fill="#9382d9"/>
<path d="M80.44 169.02L82.96 164.54L77.92 164.54Z" fill="#9382d9"/>
<path d="M87.53 165.41L90.05 160.93L85.01 160.93Z" fill="#9382d9"/>
<path d="M88.24 164.99L90.76 160.51L85.72 160.51Z" fill="#9382d9"/>
<path d="M88.95 164.56L91.47 160.08L86.43 160.08Z" fill="#9382d9"/>
<path d="M89.66 205.27L92.18 200.79L87.14 200.79Z" fill="#9382d9"/>
<path d="M90.37 207.81L92.89 203.33L87.85 203.33Z" fill="#9382d9"/>
<path d="M91.08 209.51L93.6 205.03L88.56 205.03Z" fill="#9382d9"/>
<path d="M91.78 210.78L94.3 206.3L89.26 206.3Z" fill="#9382d9"/>
<path d="M92.49 211.84L95.01 207.36L89.97 207.36Z" fill="#9382d9"/>
<path d="M93.2 212.48L95.72 208L90.68 208Z" fill="#9382d9"/>
<path d="M93.91 213.11L96.43 208.63L91.39 208.63Z" fill="#9382d9"/>
<path d="M94.62 213.75L97.14 209.27L92.1 209.27Z" fill="#9382d9"/>
<path d="M98.17 216.29L100.69 211.81L95.65 211.81Z" fill="#9382d9"/>
<path d="M101.71 217.56L104.23 213.08L99.19 213.08Z" fill="#9382d9"/>
<path d="M108.8 219.68L111.32 215.2L106.28 215.2Z" fill="#9382d9"/>
<path d="M179.7 228.38L182.22 223.9L177.18 223.9Z" fill="#9382d9"/>
<text x="53.6" y="201" font-size="11.5" text-anchor="middle" font-style="italic">&#967;</text>
<path d="M35.7 210.4h9.6" stroke="#3d99cc" stroke-width="1.2"/>
<circle cx="40.5" cy="210.4" r="1.57" fill="#3d99cc"/>
<text x="49.2" y="214.7" font-size="11.5" text-anchor="start">100</text>
<path d="M35.7 224.1h9.6" stroke="#f19b1e" stroke-width="1.2"/>
<rect x="38.97" y="222.57" width="3.06" height="3.06" fill="#f19b1e"/>
<text x="49.2" y="228.4" font-size="11.5" text-anchor="start">200</text>
<path d="M35.7 237.8h9.6" stroke="#74b336" stroke-width="1.2"/>
<path d="M40.5 235.64L42.66 237.8L40.5 239.96L38.34 237.8Z" fill="#74b336"/>
<text x="49.2" y="242.1" font-size="11.5" text-anchor="start">400</text>
<path d="M35.7 251.5h9.6" stroke="#eb6235" stroke-width="1.2"/>
<path d="M40.5 248.98L42.77 253.01L38.23 253.01Z" fill="#eb6235"/>
<text x="49.2" y="255.8" font-size="11.5" text-anchor="start">800</text>
<path d="M35.7 265.2h9.6" stroke="#9382d9" stroke-width="1.2"/>
<path d="M40.5 267.72L42.77 263.69L38.23 263.69Z" fill="#9382d9"/>
<text x="49.2" y="269.5" font-size="11.5" text-anchor="start">1600</text>
<rect x="222.5" y="156.4" width="148.7" height="119.2" fill="none" stroke="#bdbdbd" stroke-width="0.5"/>
<path d="M238.31 275.6v-2.6M238.31 156.4v2.6M255.6 275.6v-2.6M255.6 156.4v2.6M295.76 275.6v-2.6M295.76 156.4v2.6M313.05 275.6v-2.6M313.05 156.4v2.6M353.21 275.6v-2.6M353.21 156.4v2.6M370.5 275.6v-2.6M370.5 156.4v2.6M225.56 275.6v-1.5M225.56 156.4v1.5M232.74 275.6v-1.5M232.74 156.4v1.5M242.85 275.6v-1.5M242.85 156.4v1.5M246.7 275.6v-1.5M246.7 156.4v1.5M250.03 275.6v-1.5M250.03 156.4v1.5M252.97 275.6v-1.5M252.97 156.4v1.5M272.89 275.6v-1.5M272.89 156.4v1.5M283.01 275.6v-1.5M283.01 156.4v1.5M290.19 275.6v-1.5M290.19 156.4v1.5M300.3 275.6v-1.5M300.3 156.4v1.5M304.15 275.6v-1.5M304.15 156.4v1.5M307.48 275.6v-1.5M307.48 156.4v1.5M310.42 275.6v-1.5M310.42 156.4v1.5M330.34 275.6v-1.5M330.34 156.4v1.5M340.46 275.6v-1.5M340.46 156.4v1.5M347.64 275.6v-1.5M347.64 156.4v1.5M357.75 275.6v-1.5M357.75 156.4v1.5M361.6 275.6v-1.5M361.6 156.4v1.5M364.93 275.6v-1.5M364.93 156.4v1.5M367.87 275.6v-1.5M367.87 156.4v1.5M222.5 273.3h2.6M371.2 273.3h-2.6M222.5 252.38h2.6M371.2 252.38h-2.6M222.5 231.45h2.6M371.2 231.45h-2.6M222.5 210.53h2.6M371.2 210.53h-2.6M222.5 189.6h2.6M371.2 189.6h-2.6M222.5 168.68h2.6M371.2 168.68h-2.6M222.5 269.12h1.5M371.2 269.12h-1.5M222.5 264.93h1.5M371.2 264.93h-1.5M222.5 260.75h1.5M371.2 260.75h-1.5M222.5 256.56h1.5M371.2 256.56h-1.5M222.5 248.19h1.5M371.2 248.19h-1.5M222.5 244h1.5M371.2 244h-1.5M222.5 239.82h1.5M371.2 239.82h-1.5M222.5 235.64h1.5M371.2 235.64h-1.5M222.5 227.27h1.5M371.2 227.27h-1.5M222.5 223.08h1.5M371.2 223.08h-1.5M222.5 218.9h1.5M371.2 218.9h-1.5M222.5 214.71h1.5M371.2 214.71h-1.5M222.5 206.34h1.5M371.2 206.34h-1.5M222.5 202.16h1.5M371.2 202.16h-1.5M222.5 197.97h1.5M371.2 197.97h-1.5M222.5 193.78h1.5M371.2 193.78h-1.5M222.5 185.42h1.5M371.2 185.42h-1.5M222.5 181.23h1.5M371.2 181.23h-1.5M222.5 177.05h1.5M371.2 177.05h-1.5M222.5 172.86h1.5M371.2 172.86h-1.5M222.5 164.49h1.5M371.2 164.49h-1.5M222.5 160.31h1.5M371.2 160.31h-1.5M222.5 156.12h1.5M371.2 156.12h-1.5" stroke="#b4b4b4" stroke-width="0.5" fill="none"/>
<text x="238.51" y="287.6" font-size="11.5" text-anchor="middle">0.5</text>
<text x="255.8" y="287.6" font-size="11.5" text-anchor="middle">1</text>
<text x="295.96" y="287.6" font-size="11.5" text-anchor="middle">5</text>
<text x="313.25" y="287.6" font-size="11.5" text-anchor="middle">10</text>
<text x="353.41" y="287.6" font-size="11.5" text-anchor="middle">50</text>
<text x="370.7" y="287.6" font-size="11.5" text-anchor="middle">100</text>
<text x="221" y="277.3" font-size="11.5" text-anchor="end">0.0</text>
<text x="221" y="256.38" font-size="11.5" text-anchor="end">0.5</text>
<text x="221" y="235.45" font-size="11.5" text-anchor="end">1.0</text>
<text x="221" y="214.53" font-size="11.5" text-anchor="end">1.5</text>
<text x="221" y="193.6" font-size="11.5" text-anchor="end">2.0</text>
<text x="221" y="172.68" font-size="11.5" text-anchor="end">2.5</text>
<text x="190.1" y="162.9" font-size="10.7" text-anchor="start">(d)</text>
<text x="297.2" y="304" font-size="13" text-anchor="middle" font-style="italic">&#958;</text>
<text transform="translate(200.9 216.2) rotate(-90)" font-size="11.5" text-anchor="middle"><tspan font-style="italic">S</tspan><tspan font-size="8.2" dy="3" font-style="italic">v</tspan><tspan font-size="8.2">N</tspan></text>
<path d="M222.5 239.3L371.2 196.6" stroke="#3d99cc" stroke-width="1.25" stroke-dasharray="2.3 1.6" fill="none"/>
<circle cx="231.5" cy="248.1" r="2.01" fill="#3d99cc"/>
<circle cx="242.6" cy="233.1" r="2.01" fill="#3d99cc"/>
<circle cx="258" cy="227.3" r="2.01" fill="#3d99cc"/>
<circle cx="268.7" cy="224.5" r="2.01" fill="#3d99cc"/>
<circle cx="276.1" cy="222.2" r="2.01" fill="#3d99cc"/>
<circle cx="281.7" cy="219.7" r="2.01" fill="#3d99cc"/>
<circle cx="286.7" cy="217.6" r="2.01" fill="#3d99cc"/>
<circle cx="297" cy="214.8" r="2.01" fill="#3d99cc"/>
<circle cx="308.7" cy="211.6" r="2.01" fill="#3d99cc"/>
<circle cx="316.1" cy="210.1" r="2.01" fill="#3d99cc"/>
<circle cx="332.3" cy="207.3" r="2.01" fill="#3d99cc"/>
<circle cx="347.8" cy="205" r="2.01" fill="#3d99cc"/>
<circle cx="368.7" cy="203.1" r="2.01" fill="#3d99cc"/>
<rect x="230" y="246.2" width="3.4" height="3.4" fill="#f19b1e"/>
<rect x="241.1" y="231.2" width="3.4" height="3.4" fill="#f19b1e"/>
<rect x="256.5" y="225.4" width="3.4" height="3.4" fill="#f19b1e"/>
<rect x="267.2" y="222.6" width="3.4" height="3.4" fill="#f19b1e"/>
<rect x="274.6" y="220.3" width="3.4" height="3.4" fill="#f19b1e"/>
<rect x="280.2" y="217.8" width="3.4" height="3.4" fill="#f19b1e"/>
<rect x="285.2" y="215.7" width="3.4" height="3.4" fill="#f19b1e"/>
<rect x="295.5" y="212.9" width="3.4" height="3.4" fill="#f19b1e"/>
<rect x="307.7" y="209.4" width="3.4" height="3.4" fill="#f19b1e"/>
<rect x="315.2" y="207.8" width="3.4" height="3.4" fill="#f19b1e"/>
<rect x="334.3" y="203.6" width="3.4" height="3.4" fill="#f19b1e"/>
<rect x="332.7" y="162" width="3.4" height="3.4" fill="#f19b1e"/>
<rect x="341" y="161.1" width="3.4" height="3.4" fill="#f19b1e"/>
<path d="M231.3 245.9L233.7 248.3L231.3 250.7L228.9 248.3Z" fill="#74b336"/>
<path d="M242.4 230.9L244.8 233.3L242.4 235.7L240 233.3Z" fill="#74b336"/>
<path d="M257.8 225.1L260.2 227.5L257.8 229.9L255.4 227.5Z" fill="#74b336"/>
<path d="M268.5 222.3L270.9 224.7L268.5 227.1L266.1 224.7Z" fill="#74b336"/>
<path d="M275.9 220L278.3 222.4L275.9 224.8L273.5 222.4Z" fill="#74b336"/>
<path d="M281.5 217.5L283.9 219.9L281.5 222.3L279.1 219.9Z" fill="#74b336"/>
<path d="M286.5 215.4L288.9 217.8L286.5 220.2L284.1 217.8Z" fill="#74b336"/>
<path d="M296.8 212.6L299.2 215L296.8 217.4L294.4 215Z" fill="#74b336"/>
<path d="M308.1 209.6L310.5 212L308.1 214.4L305.7 212Z" fill="#74b336"/>
<path d="M315.4 208.3L317.8 210.7L315.4 213.1L313 210.7Z" fill="#74b336"/>
<path d="M329.7 206.2L332.1 208.6L329.7 211L327.3 208.6Z" fill="#74b336"/>
<path d="M341.2 204.9L343.6 207.3L341.2 209.7L338.8 207.3Z" fill="#74b336"/>
<path d="M350.1 204.5L352.5 206.9L350.1 209.3L347.7 206.9Z" fill="#74b336"/>
<path d="M226.8 170.1h18" stroke="#3d99cc" stroke-width="1.25" stroke-dasharray="2.3 1.6"/>
<text x="251.6" y="174" font-size="11.6" text-anchor="start" word-spacing="0.4"><tspan font-style="italic">c</tspan> = 1.045 (Fit)</text>
<text x="347.8" y="228.4" font-size="12" text-anchor="middle" font-style="italic">h</text>
<circle cx="329.9" cy="237.7" r="1.75" fill="#3d99cc"/>
<text x="336.8" y="241.5" font-size="11.3" text-anchor="start">1.2346</text>
<rect x="328.2" y="249.8" width="3.4" height="3.4" fill="#f19b1e"/>
<text x="336.8" y="255.3" font-size="11.3" text-anchor="start">1.2344</text>
<path d="M329.9 262.9L332.3 265.3L329.9 267.7L327.5 265.3Z" fill="#74b336"/>
<text x="336.8" y="269.1" font-size="11.3" text-anchor="start">1.2348</text>
</svg>
</body></html>
